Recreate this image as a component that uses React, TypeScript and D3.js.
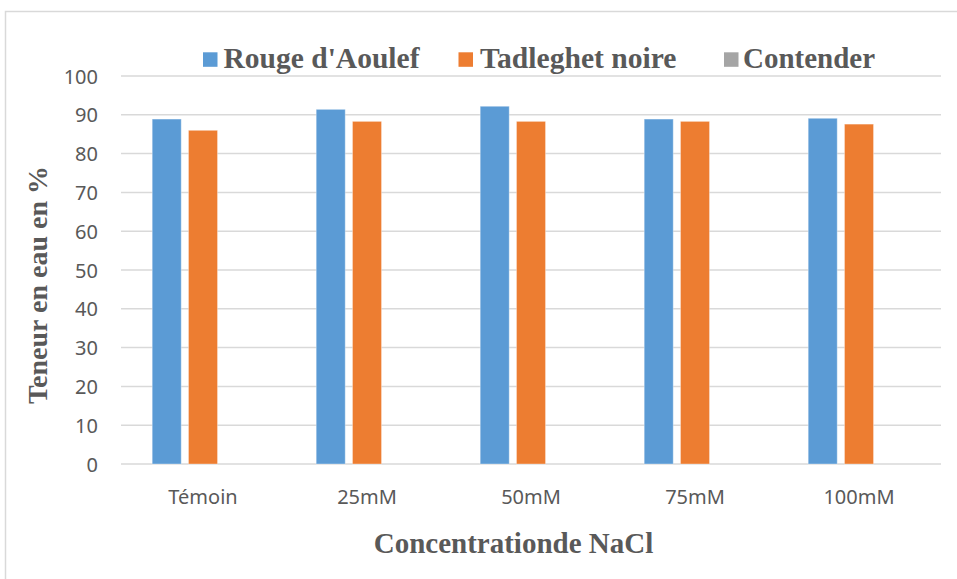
import React from "react";
import * as d3 from "d3";

const categories = ["Témoin", "25mM", "50mM", "75mM", "100mM"];
const seriesNames = ["Rouge d'Aoulef", "Tadleghet noire", "Contender"];
const rougeAoulef = [88.9, 91.4, 92.2, 88.9, 89.1];
const tadleghetNoire = [86.0, 88.3, 88.3, 88.3, 87.6];
const contender = [0, 0, 0, 0, 0];
const yTicks = [0, 10, 20, 30, 40, 50, 60, 70, 80, 90, 100];
const colors = ["#5B9BD5", "#ED7D31", "#A5A5A5"];

const W = 957;
const H = 579;
const plot = { left: 121, right: 941, top: 76, bottom: 464 };

export default function App() {
  const series = [rougeAoulef, tadleghetNoire, contender];
  const x0 = d3.scaleBand<string>().domain(categories).range([plot.left, plot.right]).padding(0);
  const groupW = 101.6;
  const bw0 = x0.bandwidth();
  const x1 = d3
    .scaleBand<number>()
    .domain([0, 1, 2])
    .range([(bw0 - groupW) / 2, (bw0 + groupW) / 2])
    .paddingInner(0.2)
    .paddingOuter(0);
  const y = d3.scaleLinear().domain([0, 100]).range([plot.bottom, plot.top]);

  const legendItems = [
    { sq: 203, tx: 223.5, len: 196 },
    { sq: 458.5, tx: 480, len: 196.5 },
    { sq: 724, tx: 743, len: 132 },
  ];

  return (
    <svg
      width={W}
      height={H}
      style={{ position: "absolute", left: 0, top: 0, display: "block", background: "#fff" }}
    >
      <rect x={5.5} y={11.5} width={1000} height={700} fill="#fff" stroke="#d9d9d9" strokeWidth={1.5} />
      {yTicks.map((t) => (
        <g key={t}>
          <line x1={plot.left} x2={plot.right} y1={y(t)} y2={y(t)} stroke="#d9d9d9" strokeWidth={1.5} />
          <text
            x={98}
            y={y(t)}
            textAnchor="end"
            dominantBaseline="central"
            fontFamily="'Noto Sans', sans-serif"
            fontSize={20}
            fill="#595959"
          >
            {t}
          </text>
        </g>
      ))}
      {categories.map((c, ci) => (
        <g key={c}>
          {series.map((s, si) => {
            const v = s[ci];
            if (v <= 0) return null;
            return (
              <rect
                key={si}
                x={(x0(c) as number) + (x1(si) as number)}
                y={y(v)}
                width={x1.bandwidth()}
                height={y(0) - y(v)}
                fill={colors[si]}
                stroke="#fff"
                strokeOpacity={0.35}
                strokeWidth={1}
              />
            );
          })}
          <text
            x={(x0(c) as number) + bw0 / 2}
            y={504}
            textAnchor="middle"
            fontFamily="'Noto Sans', sans-serif"
            fontSize={20}
            fill="#595959"
          >
            {c}
          </text>
        </g>
      ))}
      {seriesNames.map((n, i) => (
        <g key={n}>
          <rect x={legendItems[i].sq} y={52.3} width={14.5} height={14.5} fill={colors[i]} />
          <text
            x={legendItems[i].tx}
            y={68.3}
            textLength={legendItems[i].len}
            lengthAdjust="spacingAndGlyphs"
            fontFamily="'Liberation Serif', 'Times New Roman', serif"
            fontWeight="bold"
            fontSize={29}
            fill="#595959"
          >
            {n}
          </text>
        </g>
      ))}
      <text
        x={513.5}
        y={553}
        textAnchor="middle"
        fontFamily="'Liberation Serif', 'Times New Roman', serif"
        fontWeight="bold"
        fontSize={29}
        fill="#595959"
      >
        Concentrationde NaCl
      </text>
      <text
        transform={`translate(47,285) rotate(-90)`}
        textAnchor="middle"
        fontFamily="'Liberation Serif', 'Times New Roman', serif"
        fontWeight="bold"
        fontSize={28}
        fill="#595959"
      >
        Teneur en eau en %
      </text>
    </svg>
  );
}
